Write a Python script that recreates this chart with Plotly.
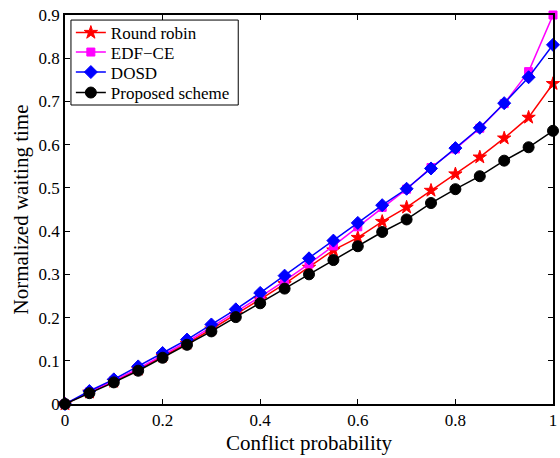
import plotly.graph_objects as go

x_vals = [0, 0.05, 0.1, 0.15, 0.2, 0.25, 0.3, 0.35, 0.4, 0.45, 0.5,
          0.55, 0.6, 0.65, 0.7, 0.75, 0.8, 0.85, 0.9, 0.95, 1.0]

round_robin = [0, 0.027, 0.052, 0.080, 0.110, 0.140, 0.173, 0.207, 0.242, 0.278, 0.316,
               0.356, 0.385, 0.422, 0.455, 0.494, 0.532, 0.571, 0.615, 0.663, 0.741]
edf_ce = [0, 0.028, 0.054, 0.082, 0.113, 0.144, 0.178, 0.212, 0.248, 0.285, 0.324,
          0.366, 0.410, 0.455, 0.497, 0.547, 0.590, 0.638, 0.695, 0.769, 0.900]
dosd = [0, 0.030, 0.057, 0.087, 0.118, 0.149, 0.184, 0.219, 0.257, 0.297, 0.337,
        0.378, 0.419, 0.460, 0.498, 0.545, 0.592, 0.639, 0.696, 0.756, 0.831]
proposed = [0, 0.025, 0.050, 0.077, 0.107, 0.137, 0.168, 0.201, 0.233, 0.267, 0.300,
            0.333, 0.365, 0.398, 0.427, 0.465, 0.497, 0.527, 0.563, 0.594, 0.632]

series = [
    ("Round robin", round_robin, "#ff0000", "star", 10),
    ("EDF\u2212CE", edf_ce, "#ff00ff", "square", 8),
    ("DOSD", dosd, "#0000ff", "diamond", 10),
    ("Proposed scheme", proposed, "#000000", "circle", 11),
]

font_family = "Liberation Serif, Times New Roman, serif"

# legend rows (paper y of each row centre)
legend_rows_y = [0.9537, 0.9036, 0.8522, 0.7995]

fig = go.Figure()
legend_layouts = {}
for i, (name, ys, col, sym, sz) in enumerate(series):
    lname = "legend" if i == 0 else f"legend{i + 1}"
    fig.add_trace(go.Scatter(
        x=x_vals, y=ys, name=name, mode="lines+markers",
        line=dict(color=col, width=1.5),
        marker=dict(symbol=sym, size=sz, color=col, line=dict(color=col, width=1)),
        cliponaxis=False, legend=lname,
    ))
    legend_layouts[lname] = dict(
        x=0.012, y=legend_rows_y[i], xanchor="left", yanchor="middle",
        bgcolor="rgba(0,0,0,0)", borderwidth=0,
        font=dict(family=font_family, size=17, color="black"),
        itemwidth=30,
    )

# legend frame
fig.add_shape(type="rect", xref="paper", yref="paper",
              x0=0.0122, x1=0.355, y0=0.7686, y1=0.987,
              line=dict(color="black", width=1), fillcolor="white", layer="below")

axis_common = dict(
    showline=True, linecolor="black", linewidth=1.5, mirror="ticks",
    ticks="inside", ticklen=5, tickcolor="black", tickwidth=1,
    showgrid=False, zeroline=False,
    tickfont=dict(family=font_family, size=17, color="black"),
)

fig.update_layout(
    width=560, height=458,
    margin=dict(l=65, r=3, t=15, b=54),
    paper_bgcolor="white", plot_bgcolor="white",
    font=dict(family=font_family, color="black"),
    xaxis=dict(range=[0, 1], tickvals=[0, 0.2, 0.4, 0.6, 0.8, 1],
               ticktext=["0", "0.2", "0.4", "0.6", "0.8", "1"],
               title=dict(text="Conflict probability", font=dict(size=21, family=font_family), standoff=6),
               **axis_common),
    yaxis=dict(range=[0, 0.9], tickvals=[0, 0.1, 0.2, 0.3, 0.4, 0.5, 0.6, 0.7, 0.8, 0.9],
               ticktext=["0", "0.1", "0.2", "0.3", "0.4", "0.5", "0.6", "0.7", "0.8", "0.9"],
               title=dict(text="Normalized waiting time", font=dict(size=21, family=font_family), standoff=4),
               **axis_common),
    showlegend=True,
    **legend_layouts,
)

fig.write_html("out.html")
